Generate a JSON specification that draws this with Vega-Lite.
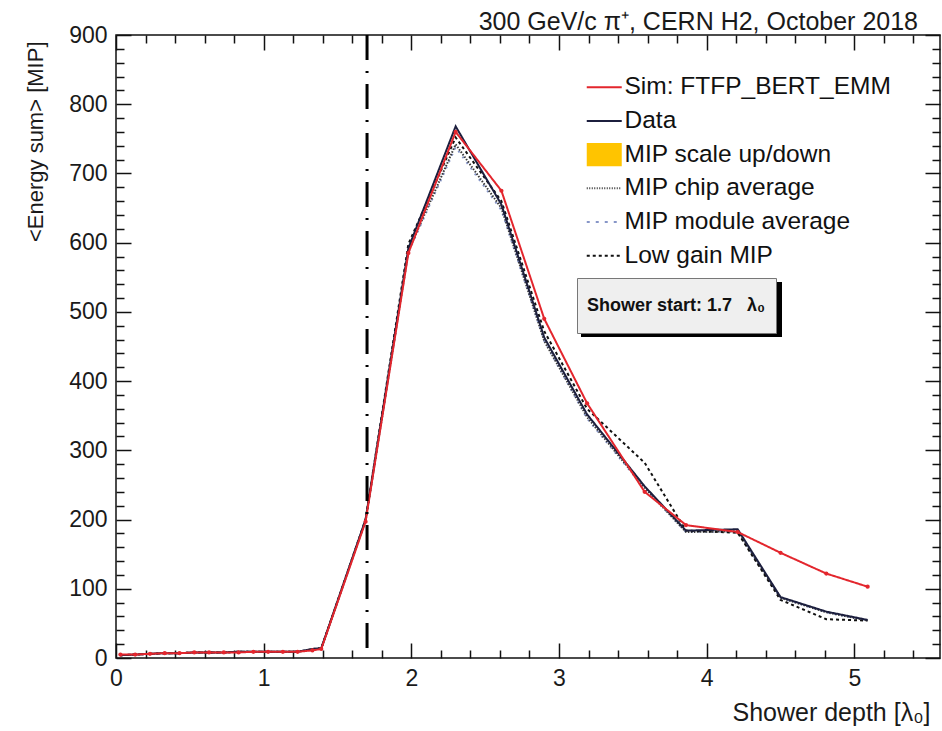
{
  "$schema": "https://vega.github.io/schema/vega-lite/v6.json",
  "width": 824,
  "height": 623,
  "autosize": "none",
  "padding": {"left": 116, "top": 35, "right": 2, "bottom": 73},
  "background": "white",
  "title": {"text": "300 GeV/c  π⁺, CERN H2, October 2018", "anchor": "end", "orient": "top", "frame": "group", "offset": 0, "dy": 11, "dx": -22, "fontSize": 25, "fontWeight": "normal", "font": "Liberation Sans", "color": "#1a1a1a"},
  "datasets": {
    "main": [
      {"depth": 0.03, "Sim: FTFP_BERT_EMM": 5, "Data": 4, "MIP chip average": 4, "MIP module average": 4, "Low gain MIP": 4},
      {"depth": 0.13, "Sim: FTFP_BERT_EMM": 5, "Data": 5, "MIP chip average": 5, "MIP module average": 5, "Low gain MIP": 5},
      {"depth": 0.23, "Sim: FTFP_BERT_EMM": 6, "Data": 6, "MIP chip average": 6, "MIP module average": 6, "Low gain MIP": 6},
      {"depth": 0.33, "Sim: FTFP_BERT_EMM": 7, "Data": 7, "MIP chip average": 7, "MIP module average": 7, "Low gain MIP": 7},
      {"depth": 0.43, "Sim: FTFP_BERT_EMM": 7, "Data": 7, "MIP chip average": 7, "MIP module average": 7, "Low gain MIP": 7},
      {"depth": 0.53, "Sim: FTFP_BERT_EMM": 8, "Data": 8, "MIP chip average": 8, "MIP module average": 8, "Low gain MIP": 8},
      {"depth": 0.63, "Sim: FTFP_BERT_EMM": 8, "Data": 8, "MIP chip average": 8, "MIP module average": 8, "Low gain MIP": 8},
      {"depth": 0.73, "Sim: FTFP_BERT_EMM": 8, "Data": 8, "MIP chip average": 8, "MIP module average": 8, "Low gain MIP": 8},
      {"depth": 0.83, "Sim: FTFP_BERT_EMM": 8, "Data": 9, "MIP chip average": 9, "MIP module average": 9, "Low gain MIP": 9},
      {"depth": 0.93, "Sim: FTFP_BERT_EMM": 9, "Data": 9, "MIP chip average": 9, "MIP module average": 9, "Low gain MIP": 9},
      {"depth": 1.03, "Sim: FTFP_BERT_EMM": 9, "Data": 9, "MIP chip average": 9, "MIP module average": 9, "Low gain MIP": 9},
      {"depth": 1.13, "Sim: FTFP_BERT_EMM": 9, "Data": 9, "MIP chip average": 9, "MIP module average": 9, "Low gain MIP": 9},
      {"depth": 1.23, "Sim: FTFP_BERT_EMM": 9, "Data": 9, "MIP chip average": 9, "MIP module average": 9, "Low gain MIP": 9},
      {"depth": 1.33, "Sim: FTFP_BERT_EMM": 11, "Data": 13, "MIP chip average": 13, "MIP module average": 13, "Low gain MIP": 13},
      {"depth": 1.39, "Sim: FTFP_BERT_EMM": 13, "Data": 14, "MIP chip average": 14, "MIP module average": 14, "Low gain MIP": 14},
      {"depth": 1.69, "Sim: FTFP_BERT_EMM": 197, "Data": 200, "MIP chip average": 198, "MIP module average": 198, "Low gain MIP": 200},
      {"depth": 1.98, "Sim: FTFP_BERT_EMM": 585, "Data": 592, "MIP chip average": 588, "MIP module average": 586, "Low gain MIP": 598},
      {"depth": 2.30, "Sim: FTFP_BERT_EMM": 760, "Data": 768, "MIP chip average": 742, "MIP module average": 738, "Low gain MIP": 752},
      {"depth": 2.61, "Sim: FTFP_BERT_EMM": 675, "Data": 655, "MIP chip average": 650, "MIP module average": 647, "Low gain MIP": 660},
      {"depth": 2.90, "Sim: FTFP_BERT_EMM": 490, "Data": 463, "MIP chip average": 458, "MIP module average": 458, "Low gain MIP": 472},
      {"depth": 3.19, "Sim: FTFP_BERT_EMM": 368, "Data": 352, "MIP chip average": 348, "MIP module average": 346, "Low gain MIP": 360},
      {"depth": 3.58, "Sim: FTFP_BERT_EMM": 240, "Data": 248, "MIP chip average": 246, "MIP module average": 245, "Low gain MIP": 282},
      {"depth": 3.86, "Sim: FTFP_BERT_EMM": 192, "Data": 184, "MIP chip average": 182, "MIP module average": 182, "Low gain MIP": 184},
      {"depth": 4.21, "Sim: FTFP_BERT_EMM": 182, "Data": 186, "MIP chip average": 183, "MIP module average": 183, "Low gain MIP": 181},
      {"depth": 4.50, "Sim: FTFP_BERT_EMM": 152, "Data": 88, "MIP chip average": 87, "MIP module average": 87, "Low gain MIP": 84},
      {"depth": 4.81, "Sim: FTFP_BERT_EMM": 122, "Data": 67, "MIP chip average": 66, "MIP module average": 66, "Low gain MIP": 56},
      {"depth": 5.09, "Sim: FTFP_BERT_EMM": 103, "Data": 55, "MIP chip average": 54, "MIP module average": 54, "Low gain MIP": 54}
    ],
    "start": [
      {"depth": 1.7, "note": "Shower start: 1.7   λ₀", "shadow": "shadow"}
    ]
  },
  "resolve": {"axis": {"x": "independent", "y": "independent"}, "scale": {"strokeDash": "independent", "stroke": "independent"}},
  "layer": [
    {
      "data": {"name": "main"},
      "transform": [{"fold": ["MIP module average", "MIP chip average", "Low gain MIP", "Data", "Sim: FTFP_BERT_EMM"], "as": ["series", "energy"]}],
      "mark": {"type": "line", "strokeWidth": 2},
      "encoding": {
        "x": {"field": "depth", "type": "quantitative", "scale": {"domain": [0, 5.58], "nice": false, "zero": false},
          "axis": {"orient": "bottom", "values": [0, 1, 2, 3, 4, 5], "format": "d", "tickSize": -15, "labelPadding": 24, "title": "Shower depth [λ₀]", "titleAnchor": "end", "titleAlign": "right", "titleBaseline": "alphabetic", "titleX": 814, "titleY": 62, "titleFontSize": 25}},
        "y": {"field": "energy", "type": "quantitative", "scale": {"domain": [0, 900], "nice": false, "zero": false},
          "axis": {"orient": "left", "values": [0, 100, 200, 300, 400, 500, 600, 700, 800, 900], "format": "d", "tickSize": -15, "labelPadding": 24, "title": "<Energy sum> [MIP]", "titleAnchor": "end", "titleAlign": "right", "titleBaseline": "alphabetic", "titleAngle": -90, "titleX": -74, "titleY": 6, "titleFontSize": 22}},
        "color": {"field": "series", "type": "nominal",
          "scale": {"domain": ["Sim: FTFP_BERT_EMM", "Data", "MIP scale up/down", "MIP chip average", "MIP module average", "Low gain MIP"],
                    "range": ["#e3262d", "#1c1f3e", "#ffc400", "#3a3a3a", "#8796c8", "#111111"]},
          "legend": {"title": null, "orient": "none", "legendX": 476, "legendY": 40, "symbolType": "stroke", "symbolSize": 1225, "symbolStrokeWidth": 2,
            "labelFontSize": 24.5, "labelFont": "Liberation Sans", "labelColor": "#111", "labelOffset": 8, "labelLimit": 500, "rowPadding": 8.7, "padding": 0,
            "encode": {"symbols": {"update": {
              "shape": {"signal": "datum.value === 'MIP scale up/down' ? 'M-1,-0.66H1V0.66H-1Z' : 'stroke'"},
              "fill": {"signal": "datum.value === 'MIP scale up/down' ? '#ffc400' : 'transparent'"},
              "strokeWidth": {"signal": "datum.value === 'MIP scale up/down' ? 0 : 2"},
              "strokeDash": {"signal": "datum.value === 'MIP chip average' ? [1, 1.5] : datum.value === 'MIP module average' ? [3, 6] : datum.value === 'Low gain MIP' ? [3, 3] : [1, 0]"},
              "strokeCap": {"value": "butt"}}}}}},
        "strokeDash": {"field": "series", "type": "nominal", "legend": null,
          "scale": {"domain": ["Sim: FTFP_BERT_EMM", "Data", "MIP chip average", "MIP module average", "Low gain MIP"],
                    "range": [[1, 0], [1, 0], [1.5, 1.5], [2, 5], [3, 3]]}}
      }
    },
    {
      "data": {"name": "main"},
      "mark": {"type": "point", "filled": true, "color": "#e3262d", "size": 18, "opacity": 1},
      "encoding": {
        "x": {"field": "depth", "type": "quantitative", "scale": {"domain": [0, 5.58], "nice": false, "zero": false}, "axis": null},
        "y": {"field": "Sim: FTFP_BERT_EMM", "type": "quantitative", "scale": {"domain": [0, 900], "nice": false, "zero": false}, "axis": null}
      }
    },
    {
      "data": {"name": "start"},
      "mark": {"type": "rule", "strokeWidth": 3, "strokeDash": [25, 11, 2, 11]},
      "encoding": {
        "x": {"field": "depth", "type": "quantitative", "scale": {"domain": [0, 5.58], "nice": false, "zero": false},
          "axis": {"orient": "bottom", "values": [0.2, 0.4, 0.6, 0.8, 1.2, 1.4, 1.6, 1.8, 2.2, 2.4, 2.6, 2.8, 3.2, 3.4, 3.6, 3.8, 4.2, 4.4, 4.6, 4.8, 5.2, 5.4], "tickSize": -8, "labels": false, "title": null}},
        "stroke": {"field": "note", "type": "nominal", "scale": {"range": ["#000000"]},
          "legend": {"title": null, "orient": "none", "legendX": 461, "legendY": 243, "zindex": 2, "fillColor": "#efefef", "strokeColor": "#777777", "padding": 10, "symbolType": "M0,-1V1", "symbolSize": 1225, "symbolOpacity": 0, "symbolStrokeWidth": 0, "labelOffset": -35, "labelLimit": 400, "labelFontSize": 18, "labelFontWeight": "bold", "labelFont": "Liberation Sans", "labelColor": "#111",
            "encode": {"labels": {"update": {"text": {"value": "Shower start: 1.7\u00a0\u00a0\u00a0λ₀"}}}}}},
        "strokeDash": {"field": "shadow", "type": "nominal", "scale": {"range": [[25, 11, 2, 11]]},
          "legend": {"title": null, "orient": "none", "legendX": 465, "legendY": 174, "zindex": 1, "padding": 0, "symbolType": "M-1,-0.2736H1V0.2736H-1Z", "symbolSize": 40401, "symbolFillColor": "#000000", "symbolStrokeColor": "#000000", "symbolStrokeWidth": 0, "symbolOpacity": 1, "labelOffset": 0, "labelFontSize": 1,
            "encode": {"labels": {"update": {"text": {"value": ""}}}, "symbols": {"update": {"fill": {"value": "#000000"}, "fillOpacity": {"value": 1}, "strokeDash": {"value": [1, 0]}}}}}}
      }
    },
    {
      "data": {"name": "main"},
      "mark": {"type": "point", "opacity": 0},
      "encoding": {
        "x": {"field": "depth", "type": "quantitative", "scale": {"domain": [0, 5.58], "nice": false, "zero": false},
          "axis": {"orient": "top", "values": [0, 1, 2, 3, 4, 5], "tickSize": -15, "labels": false, "title": null}},
        "y": {"field": "Data", "type": "quantitative", "scale": {"domain": [0, 900], "nice": false, "zero": false},
          "axis": {"orient": "right", "values": [0, 100, 200, 300, 400, 500, 600, 700, 800, 900], "tickSize": -15, "labels": false, "title": null}}
      }
    },
    {
      "data": {"name": "main"},
      "mark": {"type": "point", "opacity": 0},
      "encoding": {
        "x": {"field": "depth", "type": "quantitative", "scale": {"domain": [0, 5.58], "nice": false, "zero": false},
          "axis": {"orient": "top", "values": [0.2, 0.4, 0.6, 0.8, 1.2, 1.4, 1.6, 1.8, 2.2, 2.4, 2.6, 2.8, 3.2, 3.4, 3.6, 3.8, 4.2, 4.4, 4.6, 4.8, 5.2, 5.4], "tickSize": -8, "labels": false, "title": null}},
        "y": {"field": "Data", "type": "quantitative", "scale": {"domain": [0, 900], "nice": false, "zero": false},
          "axis": {"orient": "left", "values": [20, 40, 60, 80, 120, 140, 160, 180, 220, 240, 260, 280, 320, 340, 360, 380, 420, 440, 460, 480, 520, 540, 560, 580, 620, 640, 660, 680, 720, 740, 760, 780, 820, 840, 860, 880], "tickSize": -8, "labels": false, "title": null}}
      }
    },
    {
      "data": {"name": "main"},
      "mark": {"type": "point", "opacity": 0},
      "encoding": {
        "x": {"field": "depth", "type": "quantitative", "scale": {"domain": [0, 5.58], "nice": false, "zero": false}, "axis": null},
        "y": {"field": "Data", "type": "quantitative", "scale": {"domain": [0, 900], "nice": false, "zero": false},
          "axis": {"orient": "right", "values": [20, 40, 60, 80, 120, 140, 160, 180, 220, 240, 260, 280, 320, 340, 360, 380, 420, 440, 460, 480, 520, 540, 560, 580, 620, 640, 660, 680, 720, 740, 760, 780, 820, 840, 860, 880], "tickSize": -8, "labels": false, "title": null}}
      }
    }
  ],
  "config": {
    "view": {"stroke": "#111111", "strokeWidth": 1.5},
    "axis": {"domain": false, "grid": false, "tickColor": "#111111", "tickWidth": 1.5, "labelFont": "Liberation Sans", "labelFontSize": 23, "labelColor": "#1a1a1a", "titleFont": "Liberation Sans", "titleFontWeight": "normal", "titleColor": "#1a1a1a", "labelFlush": false, "labelOverlap": false}
  }
}
